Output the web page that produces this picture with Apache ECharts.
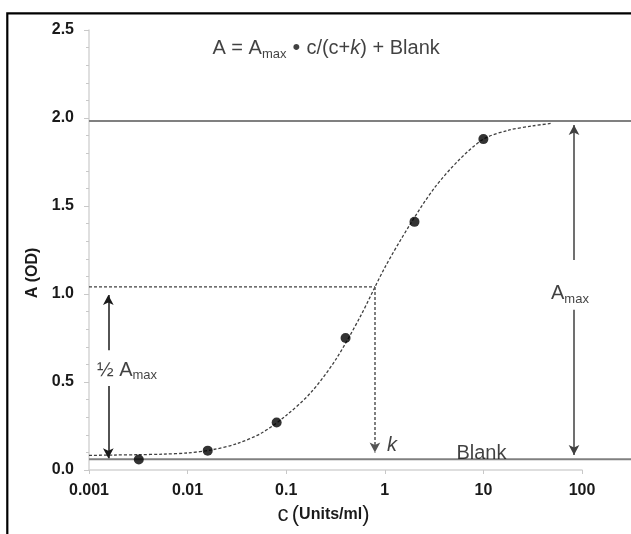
<!DOCTYPE html>
<html>
<head>
<meta charset="utf-8">
<script src="https://cdn.jsdelivr.net/npm/echarts@6/dist/echarts.min.js"></script>
<style>
html,body{margin:0;padding:0;background:#fff;}
#c{width:631px;height:534px;}
</style>
</head>
<body>
<div id="c"></div>
<script>
// Measured standards
const conc = [0.0032, 0.016, 0.08, 0.4, 2, 10];
const absorb = [0.06, 0.11, 0.27, 0.75, 1.41, 1.88];
// Fitted curve (quarter-decade steps)
const curveC = [0.001, 0.00178, 0.00316, 0.00562, 0.01, 0.0178, 0.0316, 0.0562, 0.1, 0.178, 0.316, 0.562, 1, 1.78, 3.16, 5.62, 10, 17.8, 31.6, 49.3];
const curveA = [0.083, 0.085, 0.087, 0.090, 0.097, 0.115, 0.15, 0.21, 0.31, 0.44, 0.625, 0.87, 1.15, 1.39, 1.60, 1.76, 1.88, 1.93, 1.955, 1.97];
// Reference levels
const amaxLevel = 1.983;
const blankLevel = 0.061;
const halfLevel = 1.04;
const kValue = 0.794;
// Axis ticks
const yTicks = [0, 0.5, 1.0, 1.5, 2.0, 2.5];
const xTicks = [0.001, 0.01, 0.1, 1, 10, 100];

const FONT = 'Liberation Sans, Arial, sans-serif';
const chart = echarts.init(document.getElementById('c'));

const subRich = {
  n: {fontFamily: FONT, fontSize: 20, color: '#111', lineHeight: 24, verticalAlign: 'bottom'},
  s: {fontFamily: FONT, fontSize: 13, color: '#111', lineHeight: 14, verticalAlign: 'bottom', padding:[0,0,-2,0]},
  i: {fontFamily: FONT, fontSize: 20, fontStyle: 'italic', color: '#111', lineHeight: 24, verticalAlign: 'bottom'},
  b: {fontFamily: FONT, fontSize: 22, color: '#111', lineHeight: 24, verticalAlign: 'bottom'}
};

function textPoint(c, a, fmt) {
  return {
    type: 'scatter', symbolSize: 0, silent: true, z: 5,
    data: [[c, a]],
    label: {show: true, position: 'inside', formatter: fmt, rich: subRich}
  };
}

const arrowLine = (pairs, color, type) => ({
  silent: true, symbol: ['none', 'arrow'], symbolSize: [8, 10], animation: false,
  label: {show: false},
  lineStyle: {color: color, width: 1.5, type: type},
  emphasis: {disabled: true},
  data: pairs.map(p => [{coord: [p[0], p[1]]}, {coord: [p[0], p[2]]}])
});

chart.setOption({
  animation: false,
  backgroundColor: '#fff',
  grid: {left: 89, right: 49, top: 30, bottom: 64, containLabel: false},
  xAxis: {
    type: 'log', logBase: 10, min: xTicks[0], max: xTicks[xTicks.length - 1],
    axisLine: {show: true, lineStyle: {color: '#d4d4d4', width: 1.5}},
    axisTick: {show: true, length: 4, lineStyle: {color: '#c8c8c8'}},
    minorTick: {show: false},
    splitLine: {show: false},
    axisLabel: {
      margin: 13, fontFamily: FONT, fontSize: 16, fontWeight: 'bold', color: '#1a1a1a',
      formatter: v => { const t = xTicks.find(x => Math.abs(Math.log10(x) - Math.log10(v)) < 1e-6); return t !== undefined ? String(t) : ''; }
    },
    name: '{c|c} {p|(}{u|Units/ml}{p|)}',
    nameLocation: 'middle', nameGap: 30,
    nameTextStyle: {
      padding: [0, 24, 0, 0],
      rich: {
        c: {fontFamily: FONT, fontSize: 22, color: '#1a1a1a'},
        p: {fontFamily: FONT, fontSize: 22, color: '#1a1a1a'},
        u: {fontFamily: FONT, fontSize: 16, fontWeight: 'bold', color: '#1a1a1a'}
      }
    }
  },
  yAxis: {
    type: 'value', min: yTicks[0], max: yTicks[yTicks.length - 1], interval: 0.5,
    axisLine: {show: true, lineStyle: {color: '#d4d4d4', width: 1.5}},
    axisTick: {show: true, length: 5, lineStyle: {color: '#c8c8c8'}},
    minorTick: {show: true, splitNumber: 5, length: 3, lineStyle: {color: '#c8c8c8'}},
    splitLine: {show: false},
    axisLabel: {
      margin: 15, fontFamily: FONT, fontSize: 16, fontWeight: 'bold', color: '#1a1a1a',
      formatter: v => v.toFixed(1)
    },
    name: 'A (OD)', nameLocation: 'middle', nameGap: 40, nameRotate: 90,
    nameTextStyle: {fontFamily: FONT, fontSize: 16, fontWeight: 'bold', color: '#1a1a1a', padding: [0, 0, 0, -46]}
  },
  graphic: [{
    type: 'rect', shape: {x: 7.3, y: 13.3, width: 700, height: 600},
    style: {fill: 'none', stroke: '#000', lineWidth: 2.2}, z: 100, silent: true
  }],
  series: [
    {
      type: 'custom', clip: false, silent: true, z: 1,
      data: [[xTicks[0], amaxLevel], [xTicks[0], blankLevel]],
      renderItem: (params, api) => {
        const p = api.coord([api.value(0), api.value(1)]);
        return {type: 'line', shape: {x1: p[0], y1: p[1], x2: api.getWidth(), y2: p[1]},
                style: {stroke: '#808080', lineWidth: 2}};
      }
    },
    {
      type: 'line', smooth: 0.3, symbol: 'none', silent: true, z: 2,
      data: curveC.map((c, i) => [c, curveA[i]]),
      lineStyle: {color: '#404040', width: 1.3, type: [3, 2]}
    },
    {
      type: 'line', symbol: 'none', silent: true, z: 2,
      data: [[xTicks[0], halfLevel], [kValue, halfLevel]],
      lineStyle: {color: '#404040', width: 1.3, type: [3, 2]},
      markLine: arrowLine([[kValue, halfLevel, 0.10]], '#555', [3, 2])
    },
    {
      type: 'scatter', symbol: 'circle', symbolSize: 10, z: 4,
      itemStyle: {color: '#000'},
      data: conc.map((c, i) => [c, absorb[i]])
    },
    {
      type: 'line', symbol: 'none', silent: true, data: [],
      markLine: arrowLine([[0.00157, 0.68, 0.994], [0.00157, 0.477, 0.067]], '#1a1a1a', 'solid')
    },
    {
      type: 'line', symbol: 'none', silent: true, data: [],
      markLine: arrowLine([[83, 1.193, 1.96], [83, 0.91, 0.085]], '#404040', 'solid')
    },
    textPoint(0.254, 2.405, '{n|A = A}{s|max}{b| • }{n|c/(c+}{i|k}{n|) + Blank}'),
    textPoint(0.00243, 0.578, '{n|½ A}{s|max}'),
    textPoint(75.5, 1.013, '{n|A}{s|max}'),
    textPoint(1.18, 0.152, '{i|k}'),
    textPoint(9.55, 0.104, '{n|Blank}')
  ]
});
</script>
</body>
</html>
